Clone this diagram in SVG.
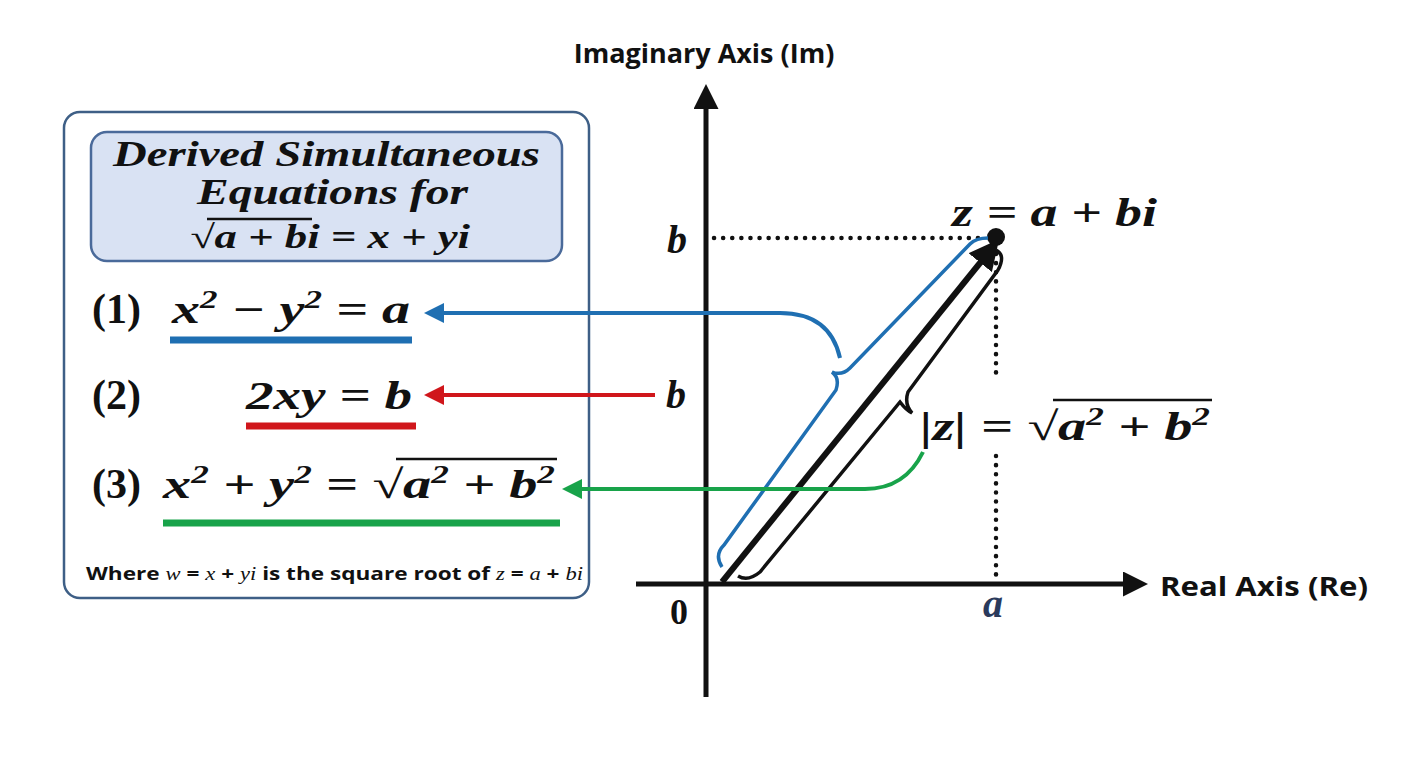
<svg xmlns="http://www.w3.org/2000/svg" width="1408" height="768" viewBox="0 0 1408 768">
<style>
.m{font-family:"Liberation Serif","DejaVu Serif",serif;font-weight:bold;font-style:italic;fill:#111}
.n{font-family:"Liberation Serif","DejaVu Serif",serif;font-weight:bold;fill:#111}
.s{font-family:"Open Sans","Liberation Sans",sans-serif;font-weight:bold;fill:#111}
.i{font-family:"Liberation Serif",serif;font-style:italic;font-weight:normal}
.dot{stroke:#111;stroke-width:4.5;stroke-dasharray:0.1 9;stroke-linecap:round;fill:none}
.ov{stroke:#111;stroke-width:2.5}
</style>
<defs>
<marker id="ab" viewBox="0 0 10 10" refX="2" refY="5" markerWidth="5" markerHeight="5" orient="auto-start-reverse"><path d="M0,0L10,5L0,10z" fill="#1f6fb2"/></marker>
<marker id="ar" viewBox="0 0 10 10" refX="2" refY="5" markerWidth="5" markerHeight="5" orient="auto-start-reverse"><path d="M0,0L10,5L0,10z" fill="#d0161b"/></marker>
<marker id="ag" viewBox="0 0 10 10" refX="2" refY="5" markerWidth="5" markerHeight="5" orient="auto-start-reverse"><path d="M0,0L10,5L0,10z" fill="#18a34a"/></marker>
<marker id="ak" viewBox="0 0 10 10" refX="2" refY="5" markerWidth="5" markerHeight="5" orient="auto-start-reverse"><path d="M0,0L10,5L0,10z" fill="#111"/></marker>
</defs>
<rect width="1408" height="768" fill="#fff"/>
<g id="panel">
<rect x="64" y="112" width="525" height="486" rx="16" fill="#fff" stroke="#3e5f86" stroke-width="2.5"/>
<rect x="91" y="132" width="471" height="129" rx="16" fill="#d9e2f3" stroke="#4a6a9a" stroke-width="2.5"/>
<text class="m" x="113" y="166" font-size="35" textLength="427" lengthAdjust="spacingAndGlyphs">Derived Simultaneous</text>
<text class="m" x="197" y="204" font-size="35" textLength="271" lengthAdjust="spacingAndGlyphs">Equations for</text>
<text class="m" x="190" y="248" font-size="33" textLength="280" lengthAdjust="spacingAndGlyphs">√a + bi = x + yi</text>
<line class="ov" x1="207" y1="219" x2="312" y2="219"/>
<text class="n" x="92" y="323" font-size="42">(1)</text>
<text class="m" x="172" y="323" font-size="40" textLength="238" lengthAdjust="spacingAndGlyphs">x<tspan dy="-15" font-size="25">2</tspan><tspan dy="15"> − y</tspan><tspan dy="-15" font-size="25">2</tspan><tspan dy="15"> = a</tspan></text>
<line x1="170" y1="340" x2="412" y2="340" stroke="#1f6fb2" stroke-width="7"/>
<text class="n" x="92" y="409" font-size="42">(2)</text>
<text class="m" x="246" y="409" font-size="40" textLength="166" lengthAdjust="spacingAndGlyphs">2xy = b</text>
<line x1="246" y1="426" x2="416" y2="426" stroke="#d0161b" stroke-width="7"/>
<text class="n" x="92" y="498" font-size="42">(3)</text>
<text class="m" x="163" y="498" font-size="40" textLength="392" lengthAdjust="spacingAndGlyphs">x<tspan dy="-15" font-size="25">2</tspan><tspan dy="15"> + y</tspan><tspan dy="-15" font-size="25">2</tspan><tspan dy="15"> = √a</tspan><tspan dy="-15" font-size="25">2</tspan><tspan dy="15"> + b</tspan><tspan dy="-15" font-size="25">2</tspan></text>
<line class="ov" x1="396" y1="459" x2="557" y2="459"/>
<line x1="163" y1="523" x2="560" y2="523" stroke="#18a34a" stroke-width="7"/>
<text class="s" x="86" y="580" font-size="18" textLength="497" lengthAdjust="spacingAndGlyphs">Where <tspan class="i">w</tspan> = <tspan class="i">x</tspan> + <tspan class="i">yi</tspan> is the square root of <tspan class="i">z</tspan> = <tspan class="i">a</tspan> + <tspan class="i">bi</tspan></text>
</g>
<g id="axes">
<line x1="706" y1="697" x2="706" y2="104" stroke="#111" stroke-width="5" marker-end="url(#ak)"/>
<line x1="636" y1="584" x2="1128" y2="584" stroke="#111" stroke-width="5" marker-end="url(#ak)"/>
<text class="s" x="704" y="63" font-size="27" text-anchor="middle">Imaginary Axis (Im)</text>
<text class="s" x="1160" y="596" font-size="27" textLength="208" lengthAdjust="spacingAndGlyphs">Real Axis (Re)</text>
<text class="n" x="670" y="624" font-size="36">0</text>
<text class="m" x="983" y="617" font-size="40" style="fill:#2a3a5c">a</text>
<text class="m" x="667" y="253" font-size="40">b</text>
<text class="m" x="952" y="226" font-size="40" textLength="205" lengthAdjust="spacingAndGlyphs">z = a + bi</text>
<text class="m" x="920" y="440" font-size="40" textLength="290" lengthAdjust="spacingAndGlyphs">|z| = √a<tspan dy="-15" font-size="25">2</tspan><tspan dy="15"> + b</tspan><tspan dy="-15" font-size="25">2</tspan></text>
<line class="ov" x1="1053" y1="400" x2="1212" y2="400"/>
<text class="m" x="666" y="408" font-size="40">b</text>
</g>
<g id="connectors" fill="none">
<line class="dot" x1="714" y1="238" x2="982" y2="238"/>
<line class="dot" x1="996" y1="254" x2="996" y2="378"/>
<line class="dot" x1="996" y1="456" x2="996" y2="578"/>
<line x1="722" y1="582" x2="984" y2="258" stroke="#111" stroke-width="6" marker-end="url(#ak)"/>
<circle cx="996" cy="237" r="9" fill="#111"/>
<path d="M722,567 Q714,555 724,545 L836,390 Q840,378 832,372 Q842,376 850,368 L970,244 Q976,238 988,238" stroke="#1f6fb2" stroke-width="3.5"/>
<path d="M738,576 Q748,582 760,572 L900,402 Q906,410 912,413 Q904,404 908,392 L998,270 Q1006,255 996,250" stroke="#111" stroke-width="3.5"/>
<path d="M840,358 Q830,313 780,313 L440,313" stroke="#1f6fb2" stroke-width="4" marker-end="url(#ab)"/>
<line x1="655" y1="395" x2="440" y2="395" stroke="#d0161b" stroke-width="4" marker-end="url(#ar)"/>
<path d="M923,452 Q905,489 865,489 L578,489" stroke="#18a34a" stroke-width="4" marker-end="url(#ag)"/>
</g>
</svg>
